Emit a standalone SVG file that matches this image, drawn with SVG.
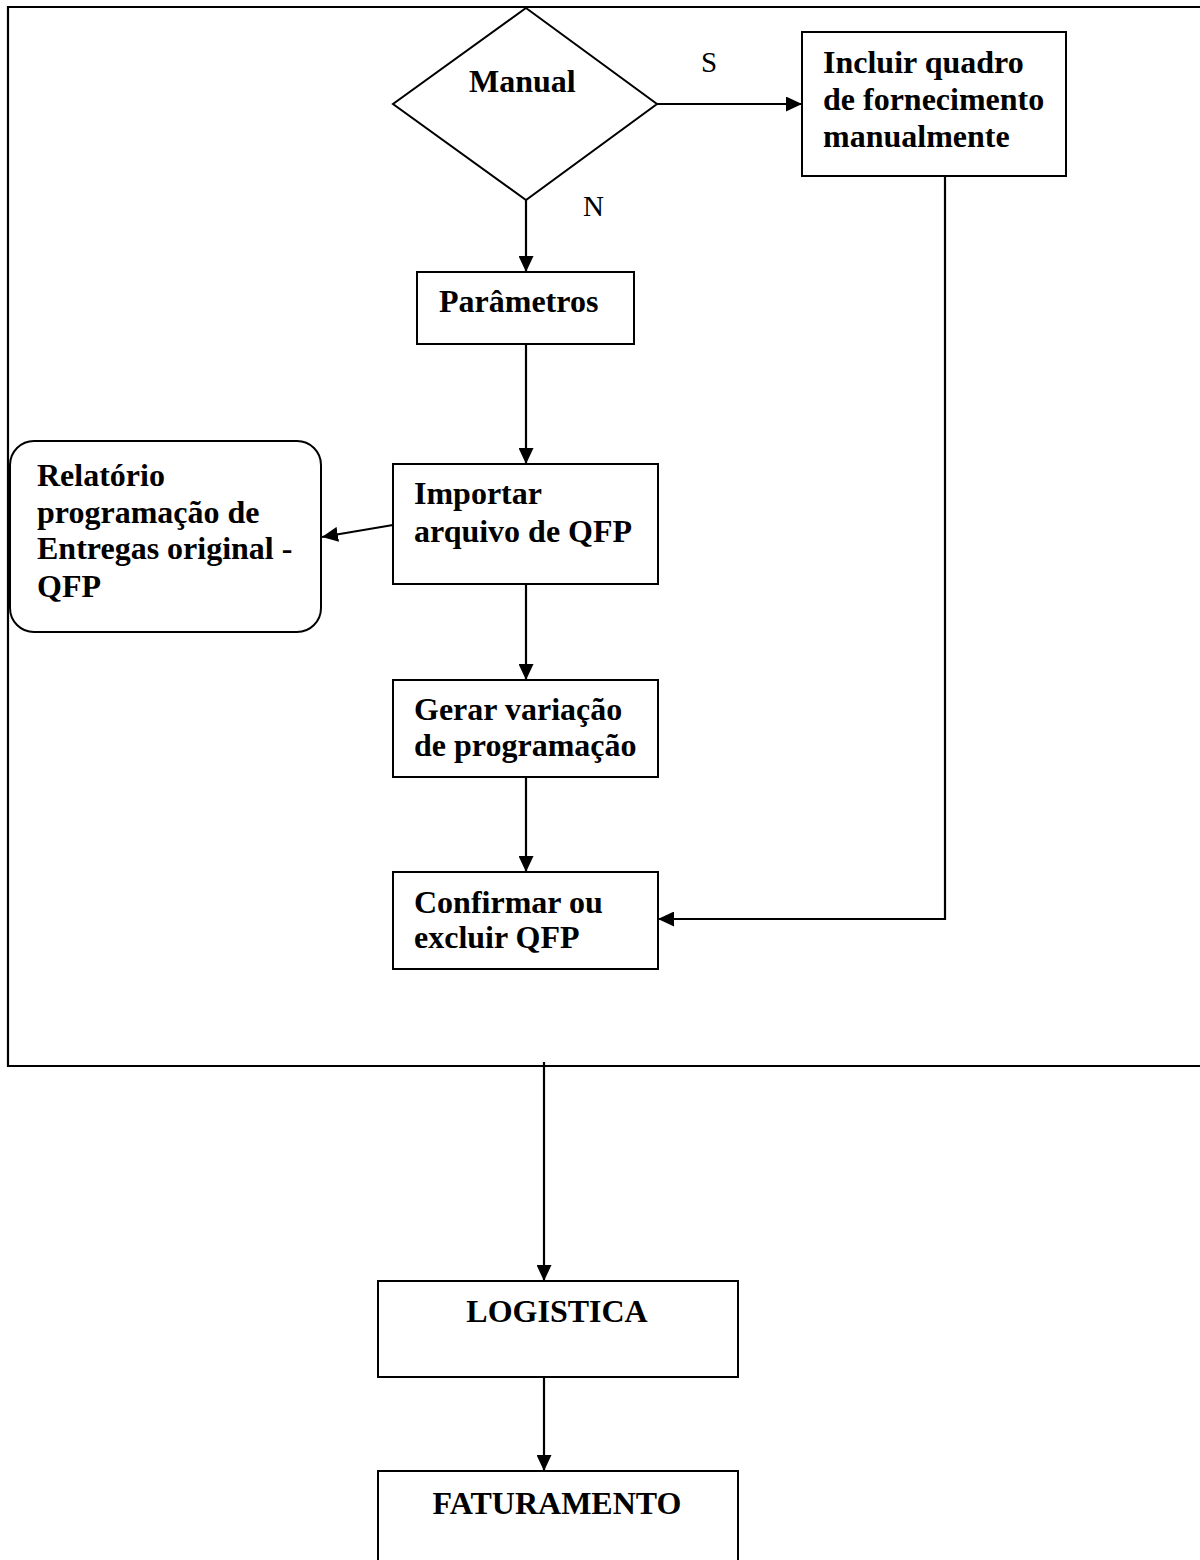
<svg xmlns="http://www.w3.org/2000/svg" width="1200" height="1560" viewBox="0 0 1200 1560">
<style>
.s{fill:#fff;stroke:#000;stroke-width:2}
.t{font-family:"Liberation Serif","Times New Roman",serif;font-weight:bold;font-size:32px;fill:#000}
.l{font-family:"Liberation Serif","Times New Roman",serif;font-size:29px;fill:#000}
.c{fill:none;stroke:#000;stroke-width:2.2}
</style>
<defs>
<marker id="ah" markerWidth="16" markerHeight="15" refX="16" refY="7.5" orient="auto" markerUnits="userSpaceOnUse">
<path d="M0,0 L16,7.5 L0,15 Z" fill="#000"/>
</marker>
</defs>
<rect width="1200" height="1560" fill="#fff"/>
<g id="frame">
<path d="M1210,7 H8 V1066 H1210" class="c"/>
</g>
<g id="connectors">
<path d="M657,104 H802" class="c" marker-end="url(#ah)"/>
<path d="M526,200 V272" class="c" marker-end="url(#ah)"/>
<path d="M526,344 V464" class="c" marker-end="url(#ah)"/>
<path d="M393,525 L322,537" class="c" marker-end="url(#ah)"/>
<path d="M526,584 V680" class="c" marker-end="url(#ah)"/>
<path d="M526,777 V872" class="c" marker-end="url(#ah)"/>
<path d="M945,176 V919 H658" class="c" marker-end="url(#ah)"/>
<path d="M544,1062 V1281" class="c" marker-end="url(#ah)"/>
<path d="M544,1377 V1471" class="c" marker-end="url(#ah)"/>
<text class="l" x="701" y="72">S</text>
<text class="l" x="583" y="216">N</text>
</g>
<g id="manual">
<polygon class="s" points="526,8 657,104 526,200 393,104"/>
<text class="t" x="469" y="92">Manual</text>
</g>
<g id="incluir">
<rect class="s" x="802" y="32" width="264" height="144"/>
<text class="t" x="823" y="73">Incluir quadro</text>
<text class="t" x="823" y="110">de fornecimento</text>
<text class="t" x="823" y="147">manualmente</text>
</g>
<g id="parametros">
<rect class="s" x="417" y="272" width="217" height="72"/>
<text class="t" x="439" y="312">Parâmetros</text>
</g>
<g id="relatorio">
<rect class="s" x="10" y="441" width="311" height="191" rx="24" ry="24"/>
<text class="t" x="37" y="486">Relatório</text>
<text class="t" x="37" y="523">programação de</text>
<text class="t" x="37" y="559">Entregas original -</text>
<text class="t" x="37" y="597">QFP</text>
</g>
<g id="importar">
<rect class="s" x="393" y="464" width="265" height="120"/>
<text class="t" x="414" y="504">Importar</text>
<text class="t" x="414" y="542">arquivo de QFP</text>
</g>
<g id="gerar">
<rect class="s" x="393" y="680" width="265" height="97"/>
<text class="t" x="414" y="720">Gerar variação</text>
<text class="t" x="414" y="756">de programação</text>
</g>
<g id="confirmar">
<rect class="s" x="393" y="872" width="265" height="97"/>
<text class="t" x="414" y="913">Confirmar ou</text>
<text class="t" x="414" y="948">excluir QFP</text>
</g>
<g id="logistica">
<rect class="s" x="378" y="1281" width="360" height="96"/>
<text class="t" x="557" y="1322" text-anchor="middle">LOGISTICA</text>
</g>
<g id="faturamento">
<rect class="s" x="378" y="1471" width="360" height="110"/>
<text class="t" x="557" y="1514" text-anchor="middle">FATURAMENTO</text>
</g>
</svg>
